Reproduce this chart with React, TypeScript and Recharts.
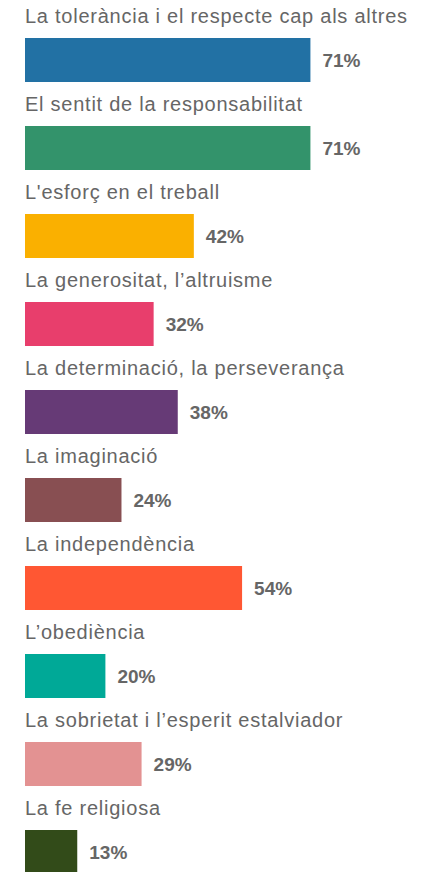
import React from "react";
import { BarChart, Bar, XAxis, YAxis, Cell, LabelList } from "recharts";

const categories = [
  "La tolerància i el respecte cap als altres",
  "El sentit de la responsabilitat",
  "L'esforç en el treball",
  "La generositat, l’altruisme",
  "La determinació, la perseverança",
  "La imaginació",
  "La independència",
  "L’obediència",
  "La sobrietat i l’esperit estalviador",
  "La fe religiosa",
];

const values = [71, 71, 42, 32, 38, 24, 54, 20, 29, 13];

const colors = [
  "#2271a4",
  "#33936b",
  "#fab000",
  "#e83e6c",
  "#663a76",
  "#884f52",
  "#ff5733",
  "#00a997",
  "#e39292",
  "#324b19",
];

const data = categories.map((name, i) => ({ name, value: values[i] }));

const FONT = "'Liberation Sans', Arial, sans-serif";

// category name drawn above each bar
const NameLabel = (props: any) => {
  const { x, y, value } = props;
  return (
    <text
      x={x}
      y={y - 15}
      fill="#666666"
      fontSize={20}
      letterSpacing={0.75}
      fontFamily={FONT}
    >
      {value}
    </text>
  );
};

const ValueLabel = (props: any) => {
  const { x, y, width, height, value } = props;
  return (
    <text
      x={x + width + 12}
      y={y + height / 2 + 7}
      fill="#666666"
      fontSize={19}
      fontWeight="bold"
      fontFamily={FONT}
    >
      {value}%
    </text>
  );
};

export default function App() {
  return (
    <div
      style={{
        position: "absolute",
        left: 0,
        top: 0,
        width: 431,
        height: 872,
        overflow: "hidden",
        background: "#fff",
      }}
    >
      <BarChart
        width={431}
        height={896}
        data={data}
        layout="vertical"
        margin={{ top: 16, right: 4, left: 25, bottom: 0 }}
        barCategoryGap={0}
      >
        <XAxis type="number" domain={[0, 100]} hide />
        <YAxis type="category" dataKey="name" hide width={0} />
        <Bar dataKey="value" barSize={44} isAnimationActive={false}>
          {data.map((d, i) => (
            <Cell key={d.name} fill={colors[i]} />
          ))}
          <LabelList dataKey="name" content={<NameLabel />} />
          <LabelList dataKey="value" content={<ValueLabel />} />
        </Bar>
      </BarChart>
    </div>
  );
}
